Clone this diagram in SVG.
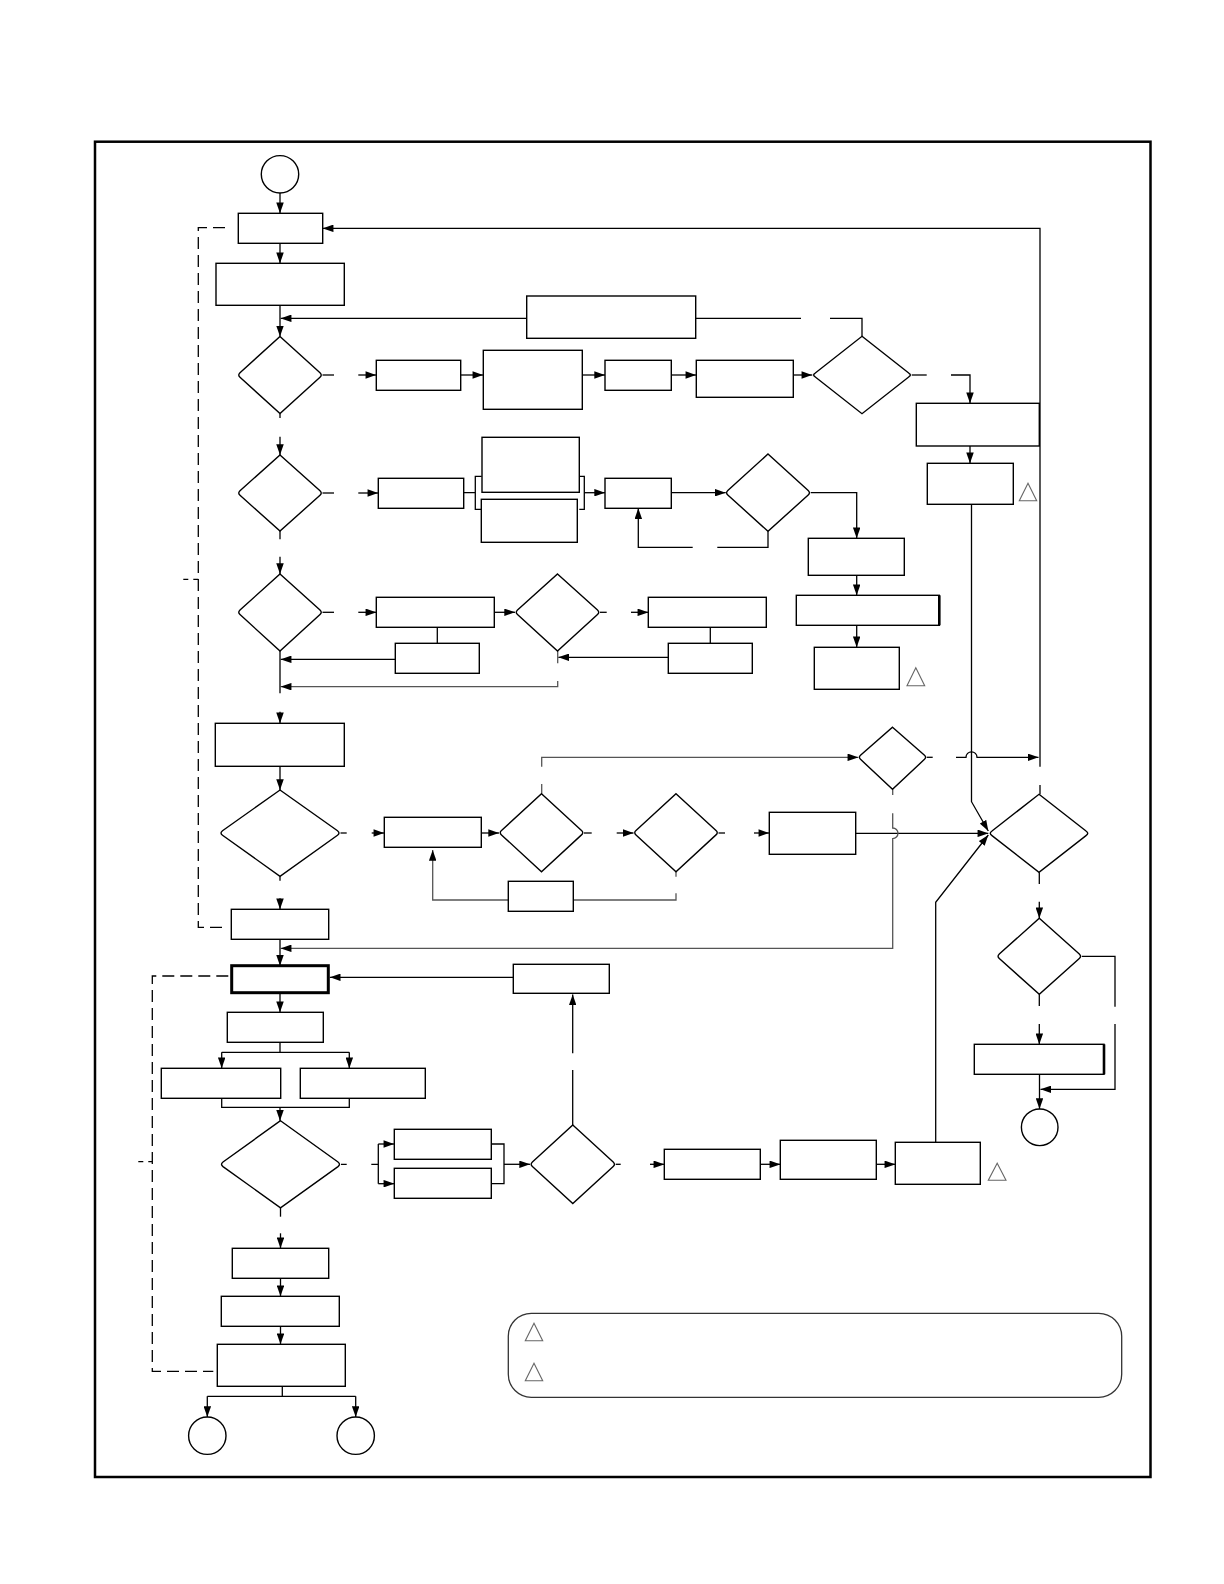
<svg xmlns="http://www.w3.org/2000/svg" width="1224" height="1584" viewBox="0 0 1224 1584">
<defs>
<marker id="ah" viewBox="0 0 10 7" refX="10" refY="3.5" markerUnits="userSpaceOnUse" markerWidth="11" markerHeight="7.5" orient="auto"><path d="M0,0 L10,3.5 L0,7 z" fill="#000"/></marker>
</defs>
<style>
.b{fill:#fff;stroke:#000;stroke-width:1.4}
.bt{fill:#fff;stroke:#000;stroke-width:3}
.c{fill:none;stroke:#000;stroke-width:1.3}
.a{fill:none;stroke:#000;stroke-width:1.3;marker-end:url(#ah)}
.g{fill:none;stroke:#555;stroke-width:1.3}
.ga{fill:none;stroke:#555;stroke-width:1.3;marker-end:url(#ah)}
.d{fill:none;stroke:#000;stroke-width:1.3;stroke-dasharray:12,6}
.dt{fill:none;stroke:#000;stroke-width:1.3;stroke-dasharray:5,5}
.t{fill:none;stroke:#666;stroke-width:1.1}
.f{fill:none;stroke:#000;stroke-width:2.5}
.lg{fill:none;stroke:#333;stroke-width:1.3}
</style>
<rect class="f" x="95" y="141.7" width="1055.5" height="1335.3"/>

<g id="connectors">
<path class="a" d="M280,193 V213.3"/>
<path class="a" d="M280,243.3 V263.3"/>
<path class="a" d="M280,305.3 V336.5"/>
<path class="a" d="M526.7,318.3 H280.7"/>
<path class="c" d="M695.7,318.3 H801 M830,318.3 H862 V336.3"/>
<path class="c" d="M322.5,375 H334"/><path class="a" d="M358.3,375 H376.3"/>
<path class="a" d="M460.7,375 H483.3"/>
<path class="a" d="M582.3,375 H605"/>
<path class="a" d="M671.3,375 H696.3"/>
<path class="a" d="M793.3,375 H812.3"/>
<path class="c" d="M911.7,375 H926.7"/><path class="a" d="M951,375 H970 V403.3"/>
<path class="a" d="M970,446 V463.3"/>
<path class="a" d="M971.5,504.3 V801.7 L988.3,831"/>
<path class="c" d="M1040,794.3 V785"/><path class="a" d="M1040,766.7 V228.3 H322.7"/>
<path class="c" d="M280,413.5 V418"/><path class="a" d="M280,436.7 V455"/>
<path class="c" d="M322.5,493 H334"/><path class="a" d="M358.3,493 H378.3"/>
<path class="c" d="M463.7,492.7 H475.3 M481.7,476.3 H475.3 V509.3 H481.7 M579.3,476.3 H584.3 V509.3 H579.3"/>
<path class="a" d="M584.3,492.7 H605"/>
<path class="a" d="M671.3,492.7 H725.7"/>
<path class="c" d="M768,531.3 V547.3 H717.3"/><path class="a" d="M692.7,547.3 H638.3 V508.3"/>
<path class="a" d="M810.7,492.7 H856.7 V538.3"/>
<path class="a" d="M856.7,575.3 V595.3"/>
<path class="a" d="M856.7,625.3 V647.3"/>
<path class="c" d="M280,531 V539.3"/><path class="a" d="M280,556.7 V574"/>
<path class="c" d="M322.5,612.3 H334"/><path class="a" d="M358.3,612.3 H376.3"/>
<path class="c" d="M437.3,627.3 V643.3"/>
<path class="a" d="M395.3,659.3 H280.7"/>
<path class="a" d="M494.3,612.3 H515"/>
<path class="c" d="M600,612.3 H606.7"/><path class="a" d="M631,612.3 H648.3"/>
<path class="c" d="M710.3,627.3 V643.3"/>
<path class="a" d="M668.3,657.3 H558.3"/>
<path class="g" d="M557.7,651 V663.3"/><path class="ga" d="M557.7,681 V686.7 H280.7"/>
<path class="c" d="M280,651 V693.3"/><path class="a" d="M280,711.7 V723.3"/>
<path class="a" d="M280,766.3 V790"/>
<path class="c" d="M340.5,833 H346.7"/><path class="a" d="M371.7,833 H384.3"/>
<path class="a" d="M481.3,833 H499"/>
<path class="c" d="M584,833 H591.7"/><path class="a" d="M616.7,833 H633.5"/>
<path class="c" d="M718.5,833 H725"/><path class="a" d="M754,833 H769.3"/>
<path class="a" d="M855.7,833.3 H988.3"/>
<path class="g" d="M676,871.7 V876.7 M676,893.3 V900 H573.3"/>
<path class="ga" d="M508.3,900 H432.7 V850"/>
<path class="g" d="M541.7,793.7 V784"/><path class="ga" d="M541.7,766.7 V757.3 H858.3"/>
<path class="c" d="M926.7,757.3 H932.7"/><path class="a" d="M956,757.3 H966 A5.5,5.5 0 0 1 977,757.3 H1038.5"/>
<path class="g" d="M892.7,789.3 V795"/><path class="ga" d="M892.7,813.3 V828 A5.3,5.3 0 0 1 892.7,838.6 V948.3 H280.7"/>
<path class="c" d="M280,876.3 V880.7"/><path class="a" d="M280,898.3 V909.3"/>
<path class="a" d="M280,939.3 V965.7"/>
<path class="a" d="M935.7,1142.3 V902.3 L988.3,835"/>
<path class="c" d="M1039.3,872.3 V884"/><path class="a" d="M1039.3,901.7 V918.3"/>
<path class="c" d="M1081.8,956.3 H1115 V1006.7"/><path class="a" d="M1115,1024 V1089.3 H1040.5"/>
<path class="c" d="M1039.3,994.3 V1006"/><path class="a" d="M1039.3,1024 V1044.3"/>
<path class="a" d="M1039.5,1074.3 V1109"/>
<path class="a" d="M513.3,977.3 H329.8"/>
<path class="c" d="M572.7,1125 V1070"/><path class="a" d="M572.7,1053.3 V994.5"/>
<path class="a" d="M280,992.7 V1012.3"/>
<path class="c" d="M280,1042.3 V1052.3 M221.7,1052.3 H349.3"/>
<path class="a" d="M221.7,1052.3 V1068.3"/><path class="a" d="M349.3,1052.3 V1068.3"/>
<path class="c" d="M221.7,1098.3 V1107.3 H349.3 V1098.3"/>
<path class="a" d="M280,1107.3 V1120.7"/>
<path class="c" d="M341,1164.3 H346.7 M371.3,1164.3 H378.3 M378.3,1144 V1183.7"/>
<path class="a" d="M378.3,1144 H394.3"/><path class="a" d="M378.3,1183.7 H394.3"/>
<path class="c" d="M491.3,1144 H504 V1183.7 H491.3"/>
<path class="a" d="M504,1164.3 H530"/>
<path class="c" d="M615.7,1164.3 H620.7"/><path class="a" d="M650,1164.3 H664.3"/>
<path class="a" d="M760.3,1164.3 H780.3"/>
<path class="a" d="M876.3,1164.3 H895.3"/>
<path class="c" d="M280.5,1207.8 V1216.7"/><path class="a" d="M280.5,1233.3 V1248.3"/>
<path class="a" d="M280.5,1278.3 V1296.3"/>
<path class="a" d="M280.5,1326.3 V1344.3"/>
<path class="c" d="M282.3,1386.3 V1396.3 M207.3,1396.3 H355.7"/>
<path class="a" d="M207.3,1396.3 V1417"/><path class="a" d="M355.7,1396.3 V1417"/>
<path class="d" d="M225,227.7 H198.3 V927.3 H225"/>
<path class="dt" d="M183.3,579.3 H198.3"/>
<path class="d" d="M228.3,976 H152.3 V1371.3 H213.3"/>
<path class="dt" d="M138.3,1161.7 H152.3"/>
</g>

<g id="start"><circle class="b" cx="280" cy="174.3" r="18.7"/></g>
<g id="box1"><rect class="b" x="238.3" y="213.3" width="84.4" height="30"/></g>
<g id="box2"><rect class="b" x="216" y="263.3" width="128.3" height="42"/></g>
<g id="boxA0"><rect class="b" x="526.7" y="296" width="169" height="42.3"/></g>
<g id="dec1"><path class="b" d="M280,336.5 L320,372.7 Q322.5,375 320,377.3 L280,413.5 L240,377.3 Q237.5,375 240,372.7 Z"/></g>
<g id="boxA1"><rect class="b" x="376.3" y="360.3" width="84.4" height="30"/></g>
<g id="boxA2"><rect class="b" x="483.3" y="350.3" width="99" height="59"/></g>
<g id="boxA3"><rect class="b" x="605" y="360.3" width="66.3" height="30"/></g>
<g id="boxA4"><rect class="b" x="696.3" y="360.3" width="97" height="37"/></g>
<g id="decA5"><path class="b" d="M862,336.3 L909,373.3 Q911.7,375 909,376.7 L862,413.7 L815,376.7 Q812.3,375 815,373.3 Z"/></g>
<g id="boxA6"><rect class="b" x="916.3" y="403.3" width="123" height="42.7"/></g>
<g id="boxA7"><rect class="b" x="927.3" y="463.3" width="86" height="41"/><path class="t" d="M1028,483.3 L1036.7,500.7 H1019.3 Z"/></g>

<g id="dec2"><path class="b" d="M280,455 L320,490.7 Q322.5,493 320,495.3 L280,531 L240,495.3 Q237.5,493 240,490.7 Z"/></g>
<g id="boxB1"><rect class="b" x="378.3" y="478.3" width="85.4" height="30"/></g>
<g id="boxB2a"><rect class="b" x="482" y="437.3" width="97.3" height="55"/></g>
<g id="boxB2b"><rect class="b" x="481.3" y="499.3" width="96" height="43"/></g>
<g id="boxB3"><rect class="b" x="605" y="478.3" width="66.3" height="30"/></g>
<g id="decB4"><path class="b" d="M768,454 L808.2,490.4 Q810.7,492.7 808.2,495 L768,531.3 L727.8,495 Q725.3,492.7 727.8,490.4 Z"/></g>
<g id="boxB5"><rect class="b" x="808.3" y="538.3" width="96" height="37"/></g>
<g id="boxB6"><rect class="b" x="796.3" y="595.3" width="143" height="30"/><path d="M939.3,595.3 V625.3" stroke="#000" stroke-width="2.6"/></g>
<g id="boxB7"><rect class="b" x="814.3" y="647.3" width="85" height="42"/><path class="t" d="M915.8,667.7 L924.7,685.7 H907 Z"/></g>

<g id="dec3"><path class="b" d="M280,574 L320,610 Q322.5,612.3 320,614.6 L280,651 L240,614.6 Q237.5,612.3 240,610 Z"/></g>
<g id="boxC1"><rect class="b" x="376.3" y="597.3" width="118" height="30"/></g>
<g id="boxC2"><rect class="b" x="395.3" y="643.3" width="84" height="30"/></g>
<g id="decC3"><path class="b" d="M557.5,574 L597.5,610 Q600,612.3 597.5,614.6 L557.5,651 L517.5,614.6 Q515,612.3 517.5,610 Z"/></g>
<g id="boxC4"><rect class="b" x="648.3" y="597.3" width="118" height="30"/></g>
<g id="boxC5"><rect class="b" x="668.3" y="643.3" width="84" height="30"/></g>

<g id="boxD1"><rect class="b" x="215.3" y="723.3" width="129" height="43"/></g>
<g id="decD2"><path class="b" d="M280,790 L337.5,830.7 Q340.5,833 337.5,835.3 L280,876.3 L222.5,835.3 Q219.5,833 222.5,830.7 Z"/></g>
<g id="boxD3"><rect class="b" x="384.3" y="817.3" width="97" height="30"/></g>
<g id="decD4"><path class="b" d="M541.5,793.7 L581.5,830.5 Q584,832.7 581.5,834.9 L541.5,871.7 L501.5,834.9 Q499,832.7 501.5,830.5 Z"/></g>
<g id="decD5"><path class="b" d="M676,793.7 L716,830.5 Q718.5,832.7 716,834.9 L676,871.7 L636,834.9 Q633.5,832.7 636,830.5 Z"/></g>
<g id="decD6"><path class="b" d="M892.5,727.3 L924.5,755.3 Q926.7,757.3 924.5,759.3 L892.5,789.3 L860.5,759.3 Q858.3,757.3 860.5,755.3 Z"/></g>
<g id="boxD7"><rect class="b" x="508.3" y="881.3" width="65" height="30"/></g>
<g id="boxD8"><rect class="b" x="769.3" y="812.3" width="86.4" height="42"/></g>
<g id="boxD9"><rect class="b" x="231.3" y="909.3" width="97.4" height="30"/></g>

<g id="decR1"><path class="b" d="M1039,794.3 L1086,831 Q1089.5,833.3 1086,835.6 L1039,872.3 L992,835.6 Q988.5,833.3 992,831 Z"/></g>
<g id="decR2"><path class="b" d="M1039.3,918.3 L1079.3,954 Q1081.8,956.3 1079.3,958.6 L1039.3,994.3 L999.3,958.6 Q996.8,956.3 999.3,954 Z"/></g>
<g id="boxR3"><rect class="b" x="974.3" y="1044.3" width="129.7" height="30"/><path d="M1104,1044.3 V1074.3" stroke="#000" stroke-width="2.6"/></g>
<g id="end"><circle class="b" cx="1039.7" cy="1127.3" r="18.3"/></g>

<g id="boxE1"><rect class="bt" x="231.7" y="965.7" width="96.6" height="27"/></g>
<g id="boxE2"><rect class="b" x="513.3" y="964.3" width="96" height="29"/></g>
<g id="boxE3"><rect class="b" x="227.3" y="1012.3" width="96" height="30"/></g>
<g id="boxE4"><rect class="b" x="161.3" y="1068.3" width="119.4" height="30"/></g>
<g id="boxE5"><rect class="b" x="300.3" y="1068.3" width="125" height="30"/></g>
<g id="decF1"><path class="b" d="M280.5,1120.7 L338,1162 Q341,1164.3 338,1166.6 L280.5,1207.8 L223,1166.6 Q220,1164.3 223,1162 Z"/></g>
<g id="boxF2a"><rect class="b" x="394.3" y="1129.3" width="97" height="30"/></g>
<g id="boxF2b"><rect class="b" x="394.3" y="1168.3" width="97" height="30"/></g>
<g id="decF3"><path class="b" d="M572.8,1125 L613.2,1162 Q615.7,1164.3 613.2,1166.6 L572.8,1203.6 L532.4,1166.6 Q529.9,1164.3 532.4,1162 Z"/></g>
<g id="boxF4"><rect class="b" x="664.3" y="1149.3" width="96" height="30"/></g>
<g id="boxF5"><rect class="b" x="780.3" y="1140.3" width="96" height="39"/></g>
<g id="boxF6"><rect class="b" x="895.3" y="1142.3" width="85" height="42"/><path class="t" d="M997.2,1163.3 L1006,1180.3 H988.3 Z"/></g>
<g id="boxG1"><rect class="b" x="232.3" y="1248.3" width="96.4" height="30"/></g>
<g id="boxG2"><rect class="b" x="221.3" y="1296.3" width="118" height="30"/></g>
<g id="boxG3"><rect class="b" x="217.3" y="1344.3" width="128" height="42"/></g>
<g id="exit1"><circle class="b" cx="207.3" cy="1435.7" r="18.7"/></g>
<g id="exit2"><circle class="b" cx="355.7" cy="1435.7" r="18.7"/></g>

<g id="legend">
<rect class="lg" x="508.3" y="1313.3" width="613.4" height="84" rx="23" ry="23"/>
<path class="t" d="M534,1323.3 L542.7,1340.7 H525.3 Z"/>
<path class="t" d="M534,1363.3 L542.7,1380.7 H525.3 Z"/>
</g>
</svg>
